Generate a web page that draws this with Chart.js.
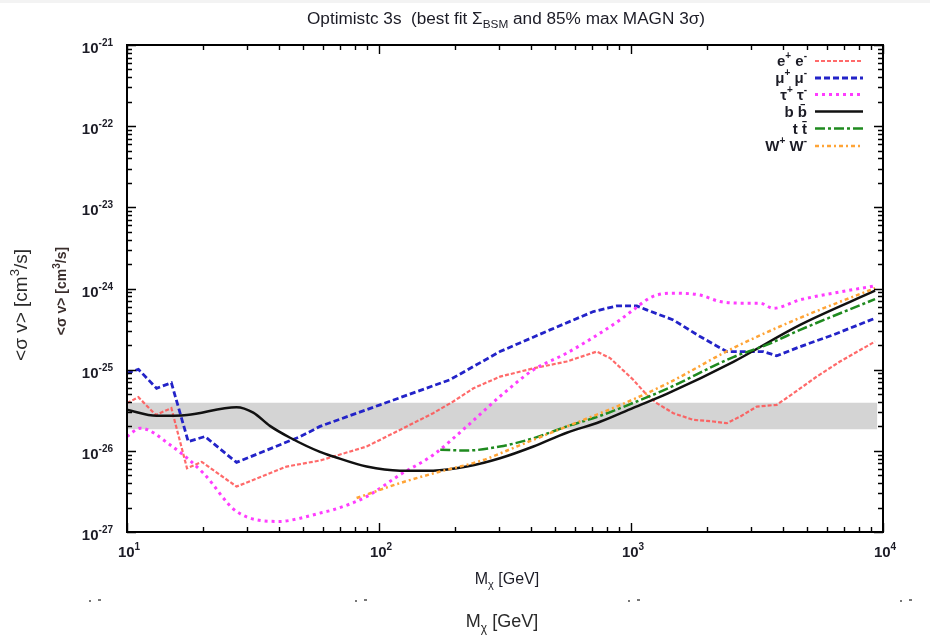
<!DOCTYPE html>
<html>
<head>
<meta charset="utf-8">
<script src="https://cdn.jsdelivr.net/npm/chart.js@4.4.1/dist/chart.umd.min.js"></script>
<style>
  html, body { margin: 0; padding: 0; background: #ffffff; }
  canvas { display: block; }
</style>
</head>
<body>
<canvas id="c" width="930" height="637"></canvas>
<script>
// ---------------- data ----------------
const massEE  = [10, 11.1, 13.0, 15.0, 17.3, 19.8, 27.2, 43, 58.3, 65.9, 89.3, 121, 164, 197, 237, 302, 410, 556, 731, 826, 1021, 1154, 1265, 1472, 1766, 2123, 2399, 2710, 3157, 3787, 4405, 5454, 6750, 9300];
const sigmaEE = [3.87e-26, 4.58e-26, 2.77e-26, 3.36e-26, 6.1e-27, 7.3e-27, 3.63e-27, 6.4e-27, 7.6e-27, 8.5e-27, 1.13e-26, 1.81e-26, 2.91e-26, 4.05e-26, 5.9e-26, 8.2e-26, 1.04e-25, 1.26e-25, 1.67e-25, 1.39e-25, 7.5e-26, 4.9e-26, 3.87e-26, 2.91e-26, 2.41e-26, 2.30e-26, 2.19e-26, 2.64e-26, 3.51e-26, 3.69e-26, 5.1e-26, 8.2e-26, 1.26e-25, 2.22e-25];

const massMuMu  = [10, 11.1, 13.1, 15.0, 17.5, 20.4, 27.2, 48.7, 58.3, 101, 191, 302, 477, 709, 877, 1054, 1154, 1472, 1879, 2399, 3351, 3787, 4688, 6353, 9300];
const sigmaMuMu = [9.06e-26, 1.01e-25, 5.9e-26, 6.9e-26, 1.30e-26, 1.50e-26, 7.2e-27, 1.50e-26, 2.0e-26, 3.69e-26, 7.5e-26, 1.67e-25, 3.09e-25, 5.2e-25, 6.1e-25, 6.1e-25, 5.45e-25, 4.1e-25, 2.56e-25, 1.67e-25, 1.67e-25, 1.48e-25, 1.92e-25, 2.69e-25, 4.3e-25];

const massTauTau  = [10, 11.3, 14.8, 20.1, 27.2, 40.5, 48.7, 58.3, 65.9, 89.3, 121, 164, 223, 302, 410, 556, 754, 904, 1021, 1211, 1454, 1879, 2255, 2710, 3251, 3672, 4688, 6353, 9300];
const sigmaTauTau = [1.50e-26, 1.9e-26, 1.19e-26, 5.3e-27, 1.79e-27, 1.35e-27, 1.48e-27, 1.71e-27, 1.88e-27, 2.73e-27, 5.06e-27, 8.9e-27, 2.0e-26, 4.67e-26, 9.95e-26, 1.6e-25, 2.82e-25, 4.1e-25, 5.45e-25, 7.9e-25, 8.75e-25, 8.3e-25, 6.9e-25, 6.6e-25, 6.6e-25, 5.7e-25, 7.25e-25, 8.75e-25, 1.08e-24];

const massBB  = [10, 13.1, 17.3, 27.2, 31.7, 36.9, 44.4, 58.3, 65.9, 89.3, 121, 164, 223, 302, 410, 556, 754, 1021, 1387, 2547, 4688, 9300];
const sigmaBB = [3.2e-26, 2.70e-26, 2.77e-26, 3.45e-26, 2.96e-26, 2.03e-26, 1.45e-26, 9.7e-27, 8.5e-27, 6.4e-27, 5.7e-27, 5.7e-27, 6.4e-27, 8.1e-27, 1.13e-26, 1.67e-26, 2.28e-26, 3.39e-26, 5.03e-26, 1.25e-25, 3.57e-25, 9.4e-25];

const massTT  = [175, 223, 302, 410, 556, 754, 1021, 1387, 2547, 3452, 4688, 9300];
const sigmaTT = [1.03e-26, 1.01e-26, 1.13e-26, 1.43e-26, 2.0e-26, 2.7e-26, 3.9e-26, 5.8e-26, 1.43e-25, 2.02e-25, 3.09e-25, 7.4e-25];

const massWW  = [81.5, 121, 175, 259, 352, 477, 648, 877, 1387, 2547, 4688, 9300];
const sigmaWW = [2.62e-27, 4.0e-27, 5.56e-27, 7.7e-27, 1.13e-26, 1.65e-26, 2.41e-26, 3.51e-26, 6.7e-26, 1.85e-25, 4.35e-25, 1.01e-24];

// grey band (thermal-relic region)
const bandLow  = 1.85e-26;
const bandHigh = 3.9e-26;
const bandMass = [10, 9500];

// axes
const xMin = 10, xMax = 10000;
const yMin = 1e-27, yMax = 1e-21;
const xTickExponents = [1, 2, 3, 4];
const yTickExponents = [-21, -22, -23, -24, -25, -26, -27];

// legend labels: [text, isSuperscript]
const labelEE     = [["e", 0], ["+", 1], [" e", 0], ["-", 1]];
const labelMuMu   = [["\u03bc", 0], ["+", 1], [" \u03bc", 0], ["-", 1]];
const labelTauTau = [["\u03c4", 0], ["+", 1], [" \u03c4", 0], ["-", 1]];
const labelBB     = [["b b\u0304", 0]];
const labelTT     = [["t t\u0304", 0]];
const labelWW     = [["W", 0], ["+", 1], [" W", 0], ["-", 1]];

// ---------------- build ----------------
function pts(xs, ys) { return xs.map((x, i) => ({ x: x, y: ys[i] })); }

const styles = [
  { data: pts(massEE, sigmaEE),         label: labelEE,     color: 'rgba(255,80,80,0.85)', dash: [4, 2],        width: 2.2, tension: 0 },
  { data: pts(massMuMu, sigmaMuMu),     label: labelMuMu,   color: '#2323c8',              dash: [6, 3],        width: 2.8, tension: 0 },
  { data: pts(massTauTau, sigmaTauTau), label: labelTauTau, color: '#ff3cff',              dash: [3, 4],        width: 3,   tension: 0.3 },
  { data: pts(massBB, sigmaBB),         label: labelBB,     color: '#111111',              dash: [],            width: 2.5, tension: 0.3 },
  { data: pts(massTT, sigmaTT),         label: labelTT,     color: '#1f8a1f',              dash: [10, 3, 3, 3], width: 2.5, tension: 0.3 },
  { data: pts(massWW, sigmaWW),         label: labelWW,     color: '#ffa436',              dash: [4, 3, 2, 3],  width: 2.5, tension: 0.3 }
];

const datasets = styles.map((s, i) => ({
  label: s.label.map(p => p[0]).join(''),
  data: s.data,
  borderColor: s.color,
  borderDash: s.dash,
  borderWidth: s.width,
  tension: s.tension,
  cubicInterpolationMode: s.tension ? 'monotone' : 'default',
  pointRadius: 0,
  fill: false,
  order: 6 - i
}));

datasets.push({
  label: 'band',
  data: [{ x: bandMass[0], y: bandHigh }, { x: bandMass[1], y: bandHigh }],
  borderWidth: 0,
  borderColor: 'rgba(0,0,0,0)',
  backgroundColor: '#d4d4d4',
  pointRadius: 0,
  fill: { value: bandLow },
  order: 20
});

const TXT = '#1c1c26';
const FAM = '"Liberation Sans", Arial, Helvetica, sans-serif';

function rich(ctx, segs, x, y, align) {
  let w = 0;
  segs.forEach(s => { ctx.font = s.f; s.w = ctx.measureText(s.t).width; w += s.w; });
  let sx = align === 'right' ? x - w : (align === 'center' ? x - w / 2 : x);
  segs.forEach(s => { ctx.font = s.f; ctx.fillText(s.t, sx, y + (s.dy || 0)); sx += s.w; });
  return w;
}

const decor = {
  id: 'decor',
  afterDraw(chart) {
    const ctx = chart.ctx;
    const a = chart.chartArea;
    const xs = chart.scales.x, ys = chart.scales.y;
    ctx.save();
    ctx.textAlign = 'left';
    ctx.textBaseline = 'alphabetic';

    // faint strip at very top
    ctx.fillStyle = 'rgba(215,215,215,0.3)';
    ctx.fillRect(0, 0, 930, 3);

    // frame
    ctx.strokeStyle = '#000';
    ctx.lineWidth = 2;
    ctx.strokeRect(a.left, a.top, a.right - a.left, a.bottom - a.top);

    // ticks (inward)
    ctx.lineWidth = 1.4;
    ctx.beginPath();
    for (let e = 1; e <= 4; e++) {
      for (let m = 1; m <= 9; m++) {
        const v = m * Math.pow(10, e);
        if (v > xMax * 1.0001) break;
        const px = Math.round(xs.getPixelForValue(v)) + 0.5;
        const L = m === 1 ? 9 : 5;
        ctx.moveTo(px, a.bottom); ctx.lineTo(px, a.bottom - L);
        ctx.moveTo(px, a.top); ctx.lineTo(px, a.top + L);
      }
    }
    for (let e = -27; e <= -21; e++) {
      for (let m = 1; m <= 9; m++) {
        const v = m * Math.pow(10, e);
        if (v > yMax * 1.0001) break;
        const py = Math.round(ys.getPixelForValue(v)) + 0.5;
        const L = m === 1 ? 9 : 5;
        ctx.moveTo(a.left, py); ctx.lineTo(a.left + L, py);
        ctx.moveTo(a.right, py); ctx.lineTo(a.right - L, py);
      }
    }
    ctx.stroke();

    ctx.fillStyle = TXT;
    // y tick labels
    yTickExponents.forEach(e => {
      const py = ys.getPixelForValue(Math.pow(10, e));
      rich(ctx, [
        { t: '10', f: 'bold 15px ' + FAM },
        { t: '-' + Math.abs(e), f: 'bold 10px ' + FAM, dy: -7 }
      ], 113, py + 8, 'right');
    });
    // x tick labels
    xTickExponents.forEach(e => {
      const px = xs.getPixelForValue(Math.pow(10, e));
      rich(ctx, [
        { t: '10', f: 'bold 15px ' + FAM },
        { t: String(e), f: 'bold 10px ' + FAM, dy: -7 }
      ], px + 2, 557, 'center');
    });

    // title
    const tsegs = [
      { t: 'Optimistc 3s  (best fit \u03a3', f: '16px ' + FAM },
      { t: 'BSM', f: '11px ' + FAM, dy: 4 },
      { t: ' and 85% max MAGN 3\u03c3)', f: '16px ' + FAM }
    ];
    let tw = 0;
    tsegs.forEach(s => { ctx.font = s.f; tw += ctx.measureText(s.t).width; });
    ctx.save();
    ctx.translate(506, 24);
    ctx.scale(398 / tw, 1);
    rich(ctx, tsegs, 0, 0, 'center');
    ctx.restore();

    // x axis titles
    rich(ctx, [
      { t: 'M', f: '16px ' + FAM },
      { t: '\u03c7', f: '11px ' + FAM, dy: 4 },
      { t: ' [GeV]', f: '16px ' + FAM }
    ], 507, 584, 'center');
    ctx.fillStyle = '#2a2a2a';
    rich(ctx, [
      { t: 'M', f: '18px ' + FAM },
      { t: '\u03c7', f: '12px ' + FAM, dy: 5 },
      { t: ' [GeV]', f: '18px ' + FAM }
    ], 502, 627, 'center');

    // y axis titles (rotated)
    ctx.save();
    ctx.translate(27, 305);
    ctx.rotate(-Math.PI / 2);
    ctx.fillStyle = '#2a2a2a';
    rich(ctx, [
      { t: '<\u03c3 v> [cm', f: '19px ' + FAM },
      { t: '3', f: '13px ' + FAM, dy: -8 },
      { t: '/s]', f: '19px ' + FAM }
    ], 0, 0, 'center');
    ctx.restore();

    ctx.save();
    ctx.translate(66, 291);
    ctx.rotate(-Math.PI / 2);
    ctx.fillStyle = '#3a2e2c';
    rich(ctx, [
      { t: '<\u03c3 v> [cm', f: 'bold 14px ' + FAM },
      { t: '3', f: 'bold 10px ' + FAM, dy: -6 },
      { t: '/s]', f: 'bold 14px ' + FAM }
    ], 0, 0, 'center');
    ctx.restore();

    // fragments of cut-off labels below
    ctx.fillStyle = '#777';
    [95, 361, 634, 906].forEach(x => {
      ctx.fillRect(x - 6, 600, 2, 2);
      ctx.fillRect(x + 3, 599, 3, 2);
    });

    // legend
    const rowY = [61, 78, 94.5, 111.5, 128.5, 146];
    styles.forEach((s, i) => {
      const y = rowY[i];
      ctx.fillStyle = TXT;
      rich(ctx, s.label.map(p => p[1]
        ? { t: p[0], f: 'bold 10px ' + FAM, dy: -7 }
        : { t: p[0], f: 'bold 15px ' + FAM }), 807, y + 5, 'right');
      ctx.save();
      ctx.strokeStyle = s.color;
      ctx.lineWidth = s.width;
      ctx.setLineDash(s.dash);
      ctx.beginPath();
      ctx.moveTo(815, y); ctx.lineTo(863, y);
      ctx.stroke();
      ctx.restore();
    });

    ctx.restore();
  }
};

new Chart(document.getElementById('c'), {
  type: 'line',
  data: { datasets: datasets },
  options: {
    responsive: false,
    devicePixelRatio: 1,
    animation: false,
    layout: { padding: { left: 127, top: 45, right: 47, bottom: 105 } },
    scales: {
      x: { type: 'logarithmic', min: xMin, max: xMax, display: false },
      y: { type: 'logarithmic', min: yMin, max: yMax, display: false }
    },
    plugins: { legend: { display: false }, tooltip: { enabled: false } }
  },
  plugins: [decor]
});
</script>
</body>
</html>
